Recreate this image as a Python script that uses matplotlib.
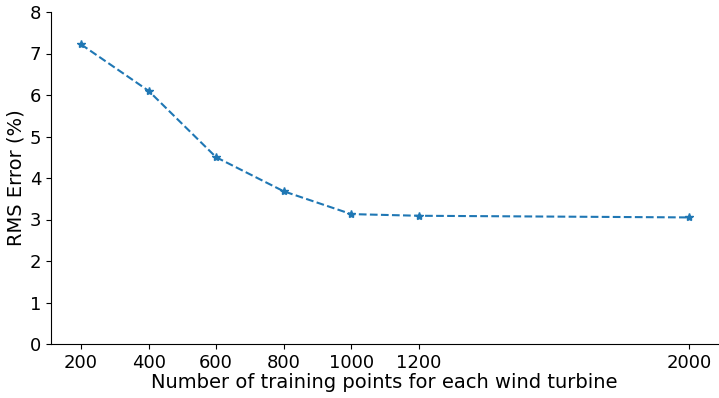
import numpy as np
import matplotlib
matplotlib.use("Agg")
import matplotlib.pyplot as plt

# ==========================
# Data
# ==========================
train_points = [200, 400, 600, 800, 1000, 1200, 2000]
rms_error = [7.22, 6.10, 4.50, 3.68, 3.13, 3.09, 3.05]

# ==========================
# Plotting
# ==========================
fig = plt.figure(figsize=(7.19, 3.98), dpi=100)
ax = fig.add_axes([51 / 719, 1 - 344 / 398, (718 - 51) / 719, (344 - 12) / 398])

ax.plot(train_points, rms_error, linestyle='--', marker='*', color='#1f77b4',
        markersize=6)

ax.set_xticks(train_points)
ax.set_xlim(111, 2086)
ax.set_ylim(0, 8)
ax.tick_params(labelsize=13)
ax.set_xlabel('Number of training points for each wind turbine', fontsize=14, labelpad=1)
ax.set_ylabel('RMS Error (%)', fontsize=14, labelpad=3)

ax.spines['top'].set_visible(False)
ax.spines['right'].set_visible(False)

fig.savefig('out.png', dpi=100)
